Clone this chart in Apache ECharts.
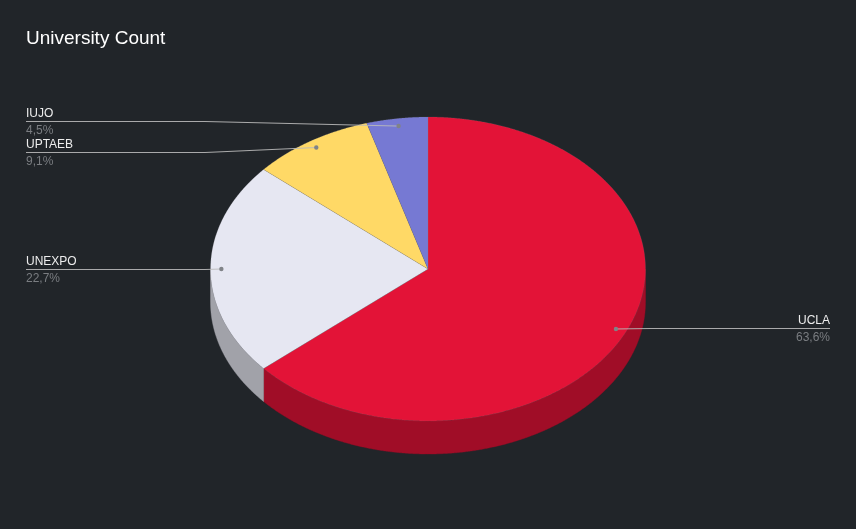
<!DOCTYPE html>
<html><head><meta charset="utf-8">
<style>html,body{margin:0;padding:0;background:#212529}#c{width:856px;height:529px}</style>
<script src="https://cdn.jsdelivr.net/npm/echarts@6/dist/echarts.min.js"></script>
</head><body><div id="c"></div>
<script>
const categories = ['UCLA','UNEXPO','UPTAEB','IUJO'];
const values = [14,5,2,1];
const topColors = ['#E31337','#E6E7F2','#FFD966','#7679D3'];
const sideColors = ['#A00D27','#A1A2A9','#B39847','#535594'];
const chartTitle = 'University Count';

const cx=428, cy=269, rx=217.5, ry=152, depth=33, anchorF=0.95;
const labelY=[328.5,269.5,152.5,121.5];
const total=values.reduce((a,b)=>a+b,0);
function pt(a,f,dy){return [cx+rx*f*Math.sin(a), cy-ry*f*Math.cos(a)+(dy||0)];}
function arc(a0,a1,dy){const n=Math.max(2,Math.ceil((a1-a0)/0.005));const p=[];for(let i=0;i<=n;i++)p.push(pt(a0+(a1-a0)*i/n,1,dy));return p;}
const starts=[];let acc=0;values.forEach(v=>{starts.push(acc);acc+=v;});
const ang=v=>v/total*2*Math.PI;

function renderItem(params,api){
  const i=params.dataIndex, v=api.value(1);
  const a0=ang(starts[i]), a1=a0+ang(v), mid=(a0+a1)/2;
  const children=[];
  const s0=Math.max(a0,Math.PI/2), s1=Math.min(a1,Math.PI*1.5);
  if(s1>s0){
    children.push({type:'polygon',z2:1,silent:true,
      shape:{points:arc(s0,s1,0).concat(arc(s0,s1,depth).reverse())},
      style:{fill:sideColors[i],stroke:sideColors[i],lineWidth:0.4}});
  }
  children.push({type:'polygon',z2:2,silent:true,
    shape:{points:[[cx,cy]].concat(arc(a0,a1,0))},
    style:{fill:topColors[i],stroke:'rgba(130,130,135,0.35)',lineWidth:0.5}});
  const an=pt(mid,anchorF), y=labelY[i], right=Math.sin(mid)>0;
  const endX=right?830:26, elbowX=right?650:205;
  children.push({type:'polyline',z2:5,silent:true,
    shape:{points:[[an[0],an[1]],[elbowX,y],[endX,y]]},
    style:{fill:null,stroke:'rgba(185,185,185,0.9)',lineWidth:1}});
  children.push({type:'circle',z2:6,silent:true,shape:{cx:an[0],cy:an[1],r:2.2},style:{fill:'#808388'}});
  const pct=(v/total*100).toFixed(1).replace('.',',')+'%';
  children.push({type:'text',z2:7,silent:true,style:{x:endX,y:y-2,text:categories[i],
    fill:'#EDEDED',font:'12px "Liberation Sans"',align:right?'right':'left',verticalAlign:'bottom'}});
  children.push({type:'text',z2:7,silent:true,style:{x:endX,y:y+3,text:pct,
    fill:'#7A7D81',font:'12px "Liberation Sans"',align:right?'right':'left',verticalAlign:'top'}});
  return {type:'group',children};
}

const chart=echarts.init(document.getElementById('c'),null,{renderer:'canvas'});
chart.setOption({
  backgroundColor:'#212529',animation:false,
  title:{text:chartTitle,left:21,top:24,textStyle:{color:'#FFFFFF',fontFamily:'Liberation Sans',fontSize:19,fontWeight:'normal'}},
  series:[{type:'custom',coordinateSystem:'none',renderItem,
    data:categories.map((c,i)=>[i,values[i]])}]
});
</script></body></html>
